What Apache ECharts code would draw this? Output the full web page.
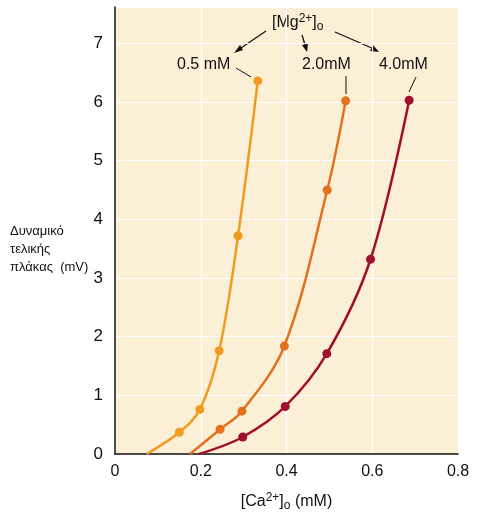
<!DOCTYPE html>
<html><head><meta charset="utf-8">
<script src="https://cdn.jsdelivr.net/npm/echarts@6/dist/echarts.min.js"></script>
<style>html,body{margin:0;padding:0;background:#fff}#c{width:479px;height:517px}</style>
</head><body><div id="c"></div>
<script>
// Data (x = [Ca2+]o mM, y = end-plate potential mV); first point of each = curve start, no marker
var mg05 = [[0.074,0],[0.15,0.37],[0.198,0.76],[0.243,1.76],[0.287,3.72],[0.333,6.36]];
var mg20 = [[0.175,0],[0.245,0.42],[0.296,0.73],[0.395,1.84],[0.495,4.5],[0.538,6.02]];
var mg40 = [[0.196,0],[0.298,0.29],[0.397,0.81],[0.494,1.71],[0.596,3.32],[0.686,6.03]];
var seriesNames = ['0.5 mM','2.0mM','4.0mM'];
var seriesColors = ['#F29A1F','#E2701C','#A00F2B'];
var xTicks = [0,0.2,0.4,0.6,0.8];
var yTicks = [0,1,2,3,4,5,6,7];

var FONT = '"Liberation Sans Narrow","Liberation Sans",sans-serif';
function mk(d){return d.map(function(p,i){return i===0?{value:p,symbolSize:0}:{value:p};});}
var chart = echarts.init(document.getElementById('c'));
var all=[mg05,mg20,mg40];
chart.setOption({
  animation:false,
  grid:{left:115,right:21,top:7,bottom:62,show:true,backgroundColor:'#FBEFD5',borderWidth:0},
  xAxis:{type:'value',min:0,max:0.8,interval:0.2,
    axisLine:{show:true,lineStyle:{color:'#111',width:1.5}},axisTick:{show:false},
    splitLine:{show:true,lineStyle:{color:'#ffffff',width:1.2}},
    axisLabel:{color:'#111',fontFamily:FONT,fontSize:16,margin:10,formatter:function(v){return xTicks.indexOf(Math.round(v*10)/10)>=0?String(Math.round(v*10)/10):'';}},
    name:'{a|[Ca}{s|2+}{a|]}{b|o}{a| (mM)}',nameLocation:'middle',nameGap:38,
    nameTextStyle:{rich:{a:{fontFamily:FONT,fontSize:16,color:'#111'},s:{fontFamily:FONT,fontSize:12,color:'#111',verticalAlign:'top',padding:[0,0,8,0]},b:{fontFamily:FONT,fontSize:12,color:'#111',padding:[8,0,0,0]}}}
  },
  yAxis:{type:'value',min:0,max:7.62,interval:1,
    axisLine:{show:true,lineStyle:{color:'#111',width:1.5}},axisTick:{show:false},
    splitLine:{show:true,lineStyle:{color:'#ffffff',width:1.2}},
    axisLabel:{color:'#111',fontFamily:FONT,fontSize:17,margin:12,formatter:function(v){return yTicks.indexOf(v)>=0?String(v):'';}}
  },
  series: all.map(function(d,i){return {type:'line',name:seriesNames[i],data:mk(d),smooth:0.35,
    symbol:'circle',symbolSize:9,lineStyle:{color:seriesColors[i],width:2.5},itemStyle:{color:seriesColors[i]}};}),
  graphic:[
    {type:'text',left:10,top:222,style:{text:'Δυναμικό\nτελικής\nπλάκας  (mV)',fontFamily:'"Liberation Sans",sans-serif',fontSize:13,lineHeight:18,fill:'#111'}},
    {type:'text',x:272,y:13,style:{text:'{a|[Mg}{s|2+}{a|]}{b|o}',rich:{a:{fontFamily:FONT,fontSize:16,fill:'#111'},s:{fontFamily:FONT,fontSize:12,fill:'#111',verticalAlign:'top',padding:[0,0,8,0]},b:{fontFamily:FONT,fontSize:12,fill:'#111',padding:[8,0,0,0]}}}},
    {type:'text',x:177,y:57,style:{text:'0.5 mM',fontFamily:FONT,fontSize:16,fill:'#111'}},
    {type:'text',x:302,y:57,style:{text:'2.0mM',fontFamily:FONT,fontSize:16,fill:'#111'}},
    {type:'text',x:379,y:57,style:{text:'4.0mM',fontFamily:FONT,fontSize:16,fill:'#111'}},
    {type:'line',shape:{x1:236,y1:68,x2:251,y2:77},style:{stroke:'#111',lineWidth:1}},
    {type:'line',shape:{x1:346,y1:76,x2:346,y2:94},style:{stroke:'#111',lineWidth:1}},
    {type:'line',shape:{x1:416,y1:77,x2:409,y2:92},style:{stroke:'#111',lineWidth:1}},
    {type:'line',shape:{x1:266,y1:31,x2:238,y2:50},style:{stroke:'#111',lineWidth:1.3}},
    {type:'polygon',shape:{points:[[234,53],[240,45],[243,50]]},style:{fill:'#111'}},
    {type:'line',shape:{x1:302,y1:35,x2:306,y2:48},style:{stroke:'#111',lineWidth:1.3}},
    {type:'polygon',shape:{points:[[307,52],[302,45],[308,44]]},style:{fill:'#111'}},
    {type:'line',shape:{x1:335,y1:32,x2:374,y2:49},style:{stroke:'#111',lineWidth:1.3}},
    {type:'polygon',shape:{points:[[379,52],[370,51],[373,45]]},style:{fill:'#111'}}
  ]
});
</script></body></html>
